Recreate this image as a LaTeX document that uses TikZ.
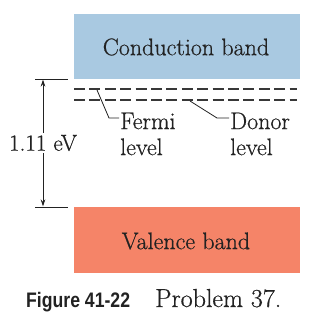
\documentclass[tikz,border=0pt]{standalone}
\usepackage{fontspec}
\newfontfamily\lblfont{Latin Modern Roman}[FakeBold=0.6]
\newfontfamily\capsans{Liberation Sans}
\usetikzlibrary{arrows.meta}
\definecolor{condblue}{HTML}{A9C9E1}
\definecolor{valred}{HTML}{F58468}
\definecolor{ink}{HTML}{222222}
\tikzset{
  lbl/.style={font=\lblfont\fontsize{24}{26}\selectfont, text=ink, inner sep=1pt},
  lvl/.style={draw=ink!90, line width=1.1pt, dash pattern=on 11pt off 4.4pt},
  ptr/.style={draw=ink, line width=0.8pt},
  tick/.style={draw=ink, line width=1pt},
  gaparrow/.style={draw=ink, line width=0.8pt, -{Stealth[length=7pt,width=4.5pt]}},
}
\begin{document}
\begin{tikzpicture}[x=1pt,y=-1pt]
\useasboundingbox (0,0) rectangle (316,319);
% bands
\fill[condblue] (74,14) rectangle (300,79);
\node[lbl] (cb) at (186,47) {Conduction band};
\fill[valred] (74,207) rectangle (300,273);
\node[lbl] (vb) at (186,241) {Valence band};
% bracket
\coordinate (ttl) at (35,79); \coordinate (ttr) at (68,79);
\coordinate (btl) at (35,207); \coordinate (btr) at (68,207);
\draw[tick] (ttl) -- (ttr);
\draw[tick] (btl) -- (btr);
\coordinate (atop) at (43,79.5);
\coordinate (abot) at (43,206.5);
\node[lbl, font=\lblfont\fontsize{23}{25}\selectfont, fill=white, inner xsep=0pt, inner ysep=2pt] (gap) at (43,143) {1.11 eV};
\draw[gaparrow] (gap.north -| atop) -- (atop);
\draw[gaparrow] (gap.south -| abot) -- (abot);
% levels
\coordinate (f1) at (74,89); \coordinate (f2) at (297,89);
\coordinate (d1) at (74,100); \coordinate (d2) at (297,100);
\draw[lvl] (f1) -- (f2);
\draw[lvl] (d1) -- (d2);
% labels
\node[lbl, anchor=west, align=left] (fermi) at (119,134) {Fermi\\level};
\node[lbl, anchor=west, align=left] (donor) at (229,134) {Donor\\level};
\coordinate (fp) at (97,90);
\coordinate (dp) at (190,101);
\draw[ptr] (fp) -- (109,118) -- (fermi.west |- 0,118);
\draw[ptr] (dp) -- (217,118) -- (donor.west |- 0,118);
% caption
\node[anchor=base west, inner sep=0pt, text=ink] (fig) at (26,307)
  {\scalebox{0.84}[1]{\capsans\bfseries\fontsize{21}{24}\selectfont Figure 41-22}};
\node[anchor=base west, inner sep=0pt, text=ink, font=\lblfont\fontsize{26}{28}\selectfont] (prob) at (155,307) {Problem 37.};
\end{tikzpicture}
\end{document}
